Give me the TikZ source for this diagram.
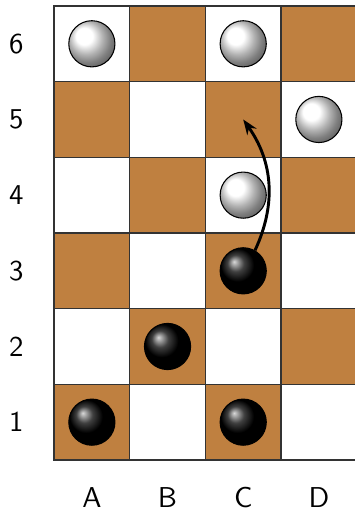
\documentclass[tikz,border=0pt]{standalone}
\usetikzlibrary{arrows.meta}
\usepackage{xcolor}
\definecolor{Board}{HTML}{BF8040}
\definecolor{Black80}{HTML}{333333}

\begin{document}
\begin{tikzpicture}[
    sq/.style={
        draw=Black80, line width=0.5pt, minimum size=1cm, inner sep=0pt
    },
    piece/.style={
        circle, draw=black, line width=0.4pt, minimum size=0.61cm, inner sep=0pt
    },
    blackpc/.style={piece, ball color=black},
    whitepc/.style={piece, ball color=white},
    lbl/.style={font=\fontsize{10.8}{13}\selectfont\sffamily},
    move/.style={-{Stealth[length=2mm]}, line width=1.1pt}
]

\useasboundingbox (-0.714,-0.674) rectangle (3.965,6.079);

% =============================================
% Board squares
% =============================================
\foreach \x/\col in {0/A,1/B,2/C,3/D} {
    \foreach \y in {0,...,5} {
        \pgfmathtruncatemacro\row{\y+1}
        \pgfmathtruncatemacro\tone{mod(\x+\y,2)}
        \ifnum\tone=0 \def\sqfill{Board}\else \def\sqfill{white}\fi
        \node[sq, fill=\sqfill] (\col\row) at (\x+0.5,\y+0.5) {};
    }
}

% =============================================
% Row and column labels
% =============================================
\foreach \y in {1,...,6}
    \node[lbl] (row\y) at (-0.5,\y-0.5) {\y};
\foreach \x/\col in {0/A,1/B,2/C,3/D}
    \node[lbl] (col\col) at (\x+0.5,-0.5) {\col};

% =============================================
% Pieces
% =============================================
\foreach \s in {A1,C1,B2,C3}
    \node[blackpc] (p\s) at (\s) {};
\foreach \s in {A6,C6,D5,C4}
    \node[whitepc] (p\s) at (\s) {};

% Move C3 -> C5
\draw[move] (pC3) to[bend right=30] (C5.center);

\end{tikzpicture}
\end{document}
